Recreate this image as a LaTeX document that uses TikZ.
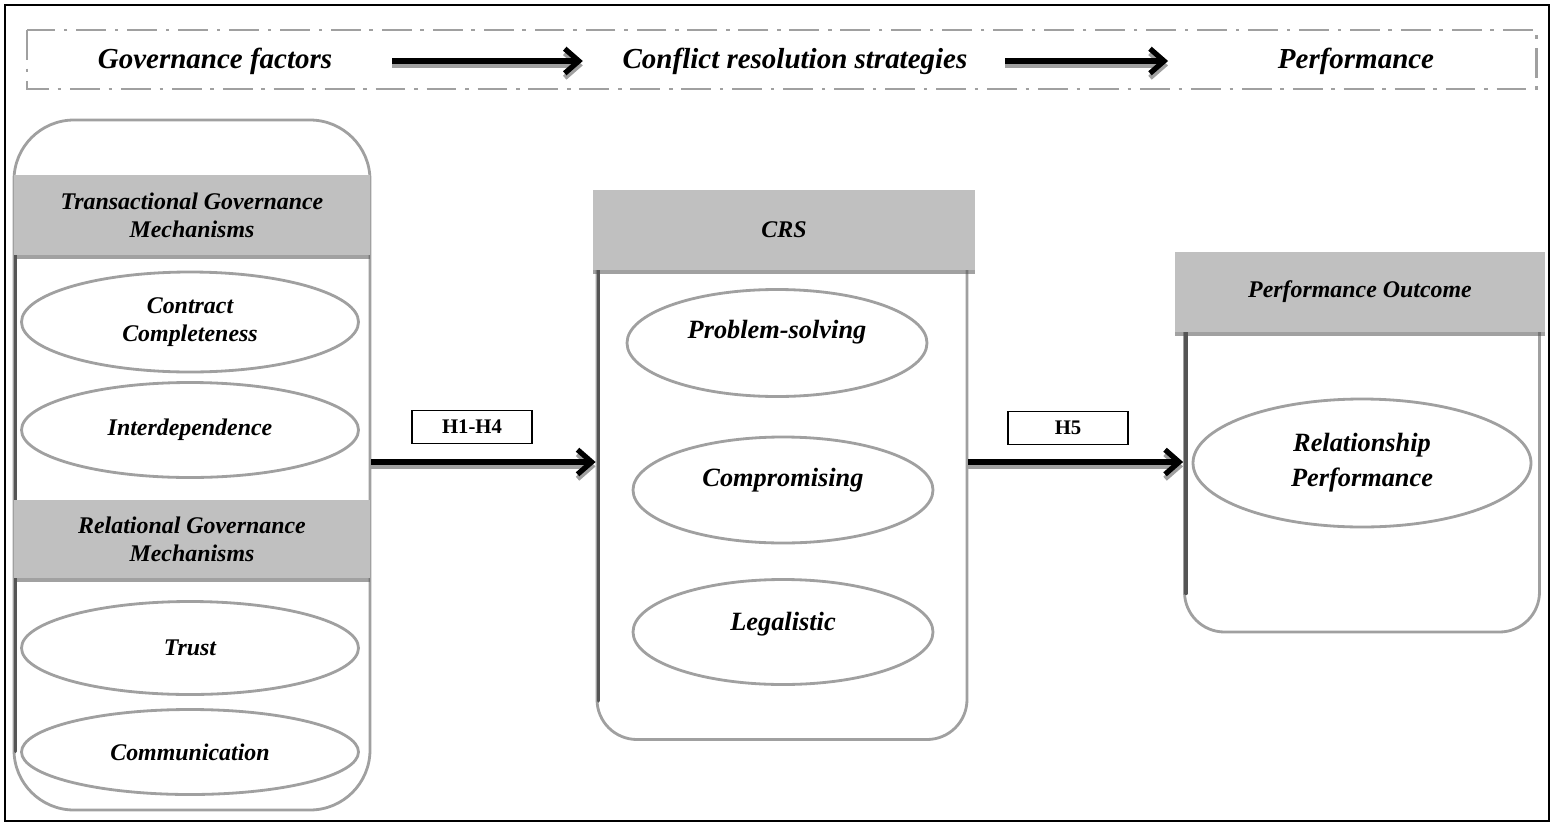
\documentclass[tikz,border=0pt]{standalone}
\usepackage{fontspec}
\setmainfont{Liberation Serif}
\usetikzlibrary{arrows.meta, positioning, shapes.geometric, shadows}

\definecolor{framegray}{RGB}{160,160,160}
\definecolor{headgray}{RGB}{192,192,192}
\definecolor{shadegray}{RGB}{85,85,85}

\def\pu{0.02cm}

\tikzset{
  column/.style={draw=framegray, line width=1.6pt, fill=white, inner sep=0pt},
  header/.style={fill=headgray, inner sep=0pt, align=center,
    font=\fontsize{13.6}{16}\selectfont\bfseries\itshape,
    drop shadow={shadow xshift=0pt, shadow yshift=-2.5pt, opacity=.55, fill=shadegray}},
  factor/.style={ellipse, draw=framegray, line width=1.6pt, fill=white, inner sep=0pt,
    align=center, font=\fontsize{13.6}{16}\selectfont\bfseries\itshape},
  bigfactor/.style={factor, font=\fontsize{15}{20}\selectfont\bfseries\itshape},
  stage/.style={font=\fontsize{16.5}{19}\selectfont\bfseries\itshape, inner sep=2pt},
  hyp/.style={draw=black, line width=.6pt, inner sep=0pt,
    minimum width={120*\pu}, minimum height={33*\pu},
    font=\fontsize{11.8}{14}\selectfont\bfseries},
  flow/.style={line width=3pt, -{Straight Barb[length=8pt, width=14pt]},
    preaction={draw=framegray, line width=3pt, transform canvas={yshift=-2.5pt}}},
  edgeshade/.style={draw=shadegray, line width=2pt, line cap=round}
}

\begin{document}
\begin{tikzpicture}[x=\pu, y=-\pu]
\useasboundingbox (0,0) rectangle (1552,825);
\draw[line width=.7pt] (5,5) rectangle (1549,821);

% stages along the top
\draw[framegray, line width=1.7pt, dash pattern=on 17pt off 5pt on 2pt off 5pt]
  (27,30) rectangle (1536,89);
\node[stage] (gf) at (215,61) {Governance factors};
\node[stage] (crst) at (795,61) {Conflict resolution strategies};
\node[stage] (perf) at (1356,61) {Performance};
\draw[flow] ([xshift={56*\pu}]gf.east) -- ([xshift={-36*\pu}]crst.west);
\draw[flow] ([xshift={34*\pu}]crst.east) -- ([xshift={-106*\pu}]perf.west);

% governance column
\node[column, rounded corners=1.2cm, minimum width={356*\pu}, minimum height={690*\pu}]
  (gov) at (192,465) {};
\draw[edgeshade] ([xshift={3*\pu},yshift={-70*\pu}]gov.north west)
  -- ([xshift={3*\pu},yshift={60*\pu}]gov.south west);
\node[header, minimum width={356*\pu}, minimum height={80*\pu}] (tgm) at (192,215)
  {Transactional Governance\\Mechanisms};
\node[factor, minimum width={337*\pu}, minimum height={100*\pu}] (cc) at (190,322)
  {Contract\\Completeness};
\node[factor, minimum width={337*\pu}, minimum height={95*\pu}] (inter) at (190,430)
  {Interdependence};
\node[header, minimum width={356*\pu}, minimum height={78*\pu}] (rgm) at (192,539)
  {Relational Governance\\Mechanisms};
\node[factor, minimum width={337*\pu}, minimum height={93*\pu}] (trust) at (190,648)
  {Trust};
\node[factor, minimum width={337*\pu}, minimum height={85*\pu}] (comm) at (190,752)
  {Communication};

% conflict resolution column
\node[column, rounded corners=.8cm, minimum width={370*\pu}, minimum height={525*\pu}]
  (crsbox) at (782,477) {};
\draw[edgeshade] ([xshift={3*\pu},yshift={-55*\pu}]crsbox.north west)
  -- ([xshift={3*\pu},yshift={40*\pu}]crsbox.south west);
\node[header, minimum width={382*\pu}, minimum height={80*\pu}] (crs) at (784,230) {CRS};
\node[bigfactor, text depth=16pt, minimum width={300*\pu}, minimum height={107*\pu}]
  (ps) at (777,343) {Problem-solving};
\node[bigfactor, text depth=14pt, minimum width={300*\pu}, minimum height={106*\pu}]
  (comp) at (783,490) {Compromising};
\node[bigfactor, text depth=12pt, minimum width={300*\pu}, minimum height={105*\pu}]
  (leg) at (783,632) {Legalistic};

% performance column
\node[column, rounded corners=.8cm, minimum width={355*\pu}, minimum height={352*\pu}]
  (perfbox) at (1362,456) {};
\draw[edgeshade] ([xshift={3*\pu},yshift={-52*\pu}]perfbox.north west)
  -- ([xshift={3*\pu},yshift={40*\pu}]perfbox.south west);
\node[header, minimum width={370*\pu}, minimum height={80*\pu}] (po) at (1360,292)
  {Performance Outcome};
\node[bigfactor, minimum width={338*\pu}, minimum height={128*\pu}] (rp) at (1362,463)
  {Relationship\\Performance};

% hypotheses
\coordinate (axis) at (0,462);
\node[hyp] (h14) at (472,427) {H1-H4};
\node[hyp] (h5) at (1068,428) {H5};
\draw[flow] (gov.east |- axis) -- (crsbox.west |- axis);
\draw[flow] (crsbox.east |- axis) -- (perfbox.west |- axis);
\end{tikzpicture}
\end{document}
